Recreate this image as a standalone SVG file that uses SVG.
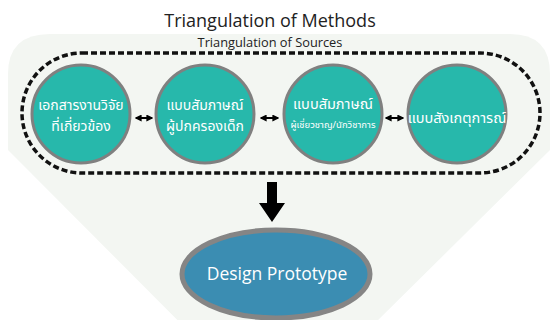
<svg xmlns="http://www.w3.org/2000/svg" width="555" height="320" viewBox="0 0 555 320">
<style>
.bg{fill:#f3f6f2}
.node circle{fill:#27b8ab;stroke:#808080;stroke-width:3}
.th{font-family:"Noto Sans Thai","Noto Sans","DejaVu Sans",sans-serif;fill:#fff;text-anchor:middle}
.ttl{font-family:"Open Sans","DejaVu Sans",sans-serif;fill:#222;text-anchor:middle}
.conn line{stroke:#000;stroke-width:2}
</style>
<defs>
<marker id="ah" viewBox="0 0 10 10" refX="8" refY="5" markerWidth="3.5" markerHeight="3.5" orient="auto-start-reverse">
<path d="M0,0 L10,5 L0,10 z" fill="#000"/>
</marker>
</defs>
<rect width="555" height="320" fill="#fff"/>
<path class="bg" d="M50,34 H510 Q550,34 550,74 V150 L277,420 L8,150 V74 Q8,34 50,34 Z"/>
<text class="ttl" x="270" y="27" font-size="18">Triangulation of Methods</text>
<text class="ttl" x="270" y="47" font-size="12.8">Triangulation of Sources</text>
<rect x="22" y="53" width="518" height="120" rx="60" ry="60" fill="none" stroke="#111" stroke-width="3.5" stroke-dasharray="6 3"/>
<g id="n1" class="node"><circle cx="81" cy="114" r="49"/>
<text class="th" x="81" y="110" font-size="14">เอกสารงานวิจัย</text>
<text class="th" x="81" y="131" font-size="14">ที่เกี่ยวข้อง</text></g>
<g id="n2" class="node"><circle cx="205" cy="114" r="49"/>
<text class="th" x="205" y="110" font-size="14">แบบสัมภาษณ์</text>
<text class="th" x="205" y="131" font-size="14">ผู้ปกครองเด็ก</text></g>
<g id="n3" class="node"><circle cx="333" cy="114" r="49"/>
<text class="th" x="333" y="109" font-size="14.5">แบบสัมภาษณ์</text>
<text class="th" x="333" y="128" font-size="9.5">ผู้เชี่ยวชาญ/นักวิชาการ</text></g>
<g id="n4" class="node"><circle cx="457" cy="114" r="49"/>
<text class="th" x="457" y="123" font-size="14.5">แบบสังเกตุการณ์</text></g>
<g id="n5"><ellipse cx="276" cy="274" rx="94" ry="44" fill="#3b8db2" stroke="#858585" stroke-width="5"/>
<text x="277" y="280" font-family="'Open Sans','DejaVu Sans',sans-serif" font-size="17.5" fill="#fff" text-anchor="middle">Design Prototype</text></g>
<g class="conn">
<line x1="136" y1="118" x2="152" y2="118" marker-start="url(#ah)" marker-end="url(#ah)"/>
<line x1="261" y1="118" x2="278" y2="118" marker-start="url(#ah)" marker-end="url(#ah)"/>
<line x1="386" y1="118" x2="403" y2="118" marker-start="url(#ah)" marker-end="url(#ah)"/>
<path d="M267,182 H277 V203 H285 L272,222 L259,203 H267 Z" fill="#000"/>
</g>
</svg>
